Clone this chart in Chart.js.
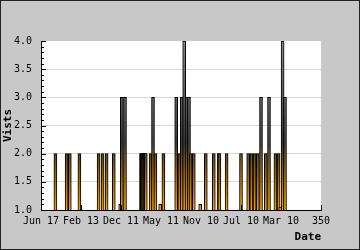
<!DOCTYPE html>
<html>
<head>
<meta charset="utf-8">
<script src="https://cdn.jsdelivr.net/npm/chart.js@4/dist/chart.umd.min.js"></script>
<style>
  body { margin: 0; background: #c8c8c8; }
</style>
</head>
<body>
<canvas id="visitsChart" width="360" height="250"></canvas>
<script>
// days (position on the x axis) that had more than one visit, and the visit count
const spikeDays = [18, 32, 36, 48, 72, 77, 82, 91, 99, 101, 105,
  125, 126, 127, 128, 129, 130, 131, 137, 140, 143, 149, 153,
  169, 173, 176, 179, 182, 185, 187, 191, 199, 206, 216, 222, 223, 232,
  250, 259, 263, 267, 271, 275, 281, 285, 293, 297, 299, 302, 305];
const spikeVisits = [2, 2, 2, 2, 2, 2, 2, 2, 1.1, 3, 3,
  2, 2, 2, 2, 2, 2, 2, 2, 3, 2, 1.1, 2,
  3, 2, 3, 4, 3, 3, 2, 2, 1.1, 2, 2, 2, 2, 2,
  2, 2, 2, 2, 2, 3, 2, 3, 2, 2, 1.05, 4, 3];

// x tick labels, one every 50 days
const tickLabels = ['Jun 17', 'Feb 13', 'Dec 11', 'May 11', 'Nov 10', 'Jul 10', 'Mar 10', '350'];

Chart.defaults.font.family = 'DejaVu Sans Mono';
Chart.defaults.font.size = 10;
Chart.defaults.color = '#000';

// gray frame, white plot, ticks drawn inside the plot
const framePlugin = {
  id: 'frame',
  beforeDraw(chart) {
    const { ctx, chartArea: a, width, height } = chart;
    ctx.save();
    ctx.fillStyle = '#c8c8c8';
    ctx.fillRect(0, 0, width, height);
    ctx.fillStyle = '#ffffff';
    ctx.fillRect(a.left, a.top, a.right - a.left, a.bottom - a.top);
    ctx.strokeStyle = '#222';
    ctx.lineWidth = 1;
    ctx.strokeRect(0.5, 0.5, width - 1, height - 1);
    ctx.restore();
  },
  afterDraw(chart) {
    const { ctx, chartArea: a, scales } = chart;
    ctx.save();
    ctx.strokeStyle = '#000';
    ctx.lineWidth = 1;
    ctx.beginPath();
    for (let v = 10; v <= 40; v++) {
      const py = Math.round(scales.y.getPixelForValue(v / 10)) + 0.5;
      const len = v % 5 ? 3 : 5;
      ctx.moveTo(a.left, py);
      ctx.lineTo(a.left + len, py);
    }
    for (let v = 0; v <= 350; v += 50) {
      const px = Math.round(scales.x.getPixelForValue(v)) + 0.5;
      ctx.moveTo(px, a.bottom);
      ctx.lineTo(px, a.bottom - 5);
    }
    ctx.stroke();
    ctx.restore();
  }
};

// orange at the bottom of each spike fading to dark gray at the top
function barFill(c) {
  const area = c.chart.chartArea;
  if (!area) return '#e89a00';
  const g = c.chart.ctx.createLinearGradient(0, area.bottom, 0, area.top);
  g.addColorStop(0, '#f0a000');
  g.addColorStop(0.2, '#a06800');
  g.addColorStop(0.4, '#3a3a3a');
  g.addColorStop(1, '#888888');
  return g;
}

const ctx = document.getElementById('visitsChart').getContext('2d');

const visitsChart = new Chart(ctx, {
  type: 'bar',
  data: {
    datasets: [{
      label: 'Vists',
      data: spikeDays.map((d, i) => ({ x: d, y: spikeVisits[i] })),
      backgroundColor: barFill,
      borderColor: '#000000',
      borderWidth: 1,
      barThickness: 3
    }]
  },
  options: {
    responsive: false,
    animation: false,
    layout: { padding: { top: 41, right: 39, left: 0, bottom: 0 } },
    plugins: {
      legend: { display: false },
      tooltip: { enabled: false }
    },
    scales: {
      x: {
        type: 'linear',
        min: 0,
        max: 350,
        offset: false,
        afterFit: (scale) => { scale.height = 40; },
        grid: { display: false, drawTicks: false },
        border: { color: '#000', width: 1 },
        ticks: {
          stepSize: 50,
          padding: 5,
          maxRotation: 0,
          autoSkip: false,
          callback: (value) => tickLabels[value / 50]
        },
        title: {
          display: true,
          text: 'Date',
          align: 'end',
          font: { size: 11, weight: 'bold' },
          padding: { top: 0, bottom: 6 }
        }
      },
      y: {
        min: 1,
        max: 4,
        afterFit: (scale) => { scale.width = 41; },
        grid: {
          drawTicks: false,
          color: (c) => (c.tick && c.tick.value > 1 && c.tick.value < 4) ? '#d8d8d8' : 'rgba(0,0,0,0)'
        },
        border: { color: '#000', width: 1 },
        ticks: {
          stepSize: 0.5,
          padding: 9,
          callback: (value) => value.toFixed(1)
        },
        title: {
          display: true,
          text: 'Vists',
          font: { size: 11, weight: 'bold' },
          padding: { top: 2, bottom: 0 }
        }
      }
    }
  },
  plugins: [framePlugin]
});
</script>
</body>
</html>
